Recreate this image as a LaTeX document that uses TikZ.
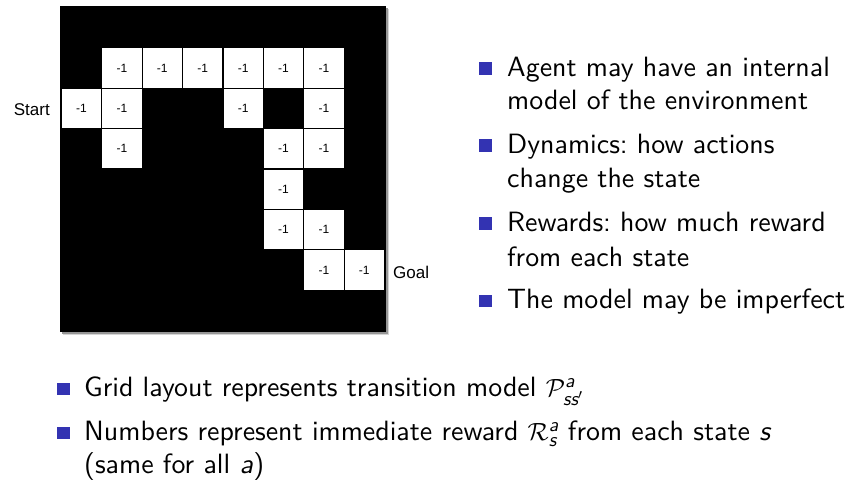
\documentclass[tikz,border=0pt]{standalone}
\usepackage{amsmath}
\usepackage{fontspec}
\usepackage{tikz}
\usetikzlibrary{positioning}
\newfontfamily\arialfont{Liberation Sans}
\newfontfamily\slidefont{lmsans10-regular}[Extension=.otf, ItalicFont=lmsans10-oblique]
\definecolor{bulletblue}{RGB}{51,51,178}
\definecolor{shadowgray}{RGB}{150,150,150}

\begin{document}
\begin{tikzpicture}[
    x=1pt, y=-1pt,
    cell/.style={
        rectangle,
        draw=black,
        line width=1.2pt,
        fill=white,
        minimum size=40.4pt,
        inner sep=0pt,
        font=\arialfont\fontsize{12}{12}\selectfont
    },
    tag/.style={inner sep=0pt, font=\arialfont\fontsize{17}{17}\selectfont},
    bullet/.style={rectangle, fill=bulletblue, minimum size=12.5pt, inner sep=0pt, anchor=south west},
    itemtext/.style={anchor=base west, inner sep=0pt, font=\slidefont\fontsize{27.9}{33}\selectfont}
]
\useasboundingbox (0,0) rectangle (848,501);

% grid world
\fill[shadowgray!40] (63,9) rectangle (389,335);
\fill[shadowgray] (61.5,7.5) rectangle (387.5,333.5);
\fill[black] (60,6) rectangle (386,332);

\node[cell] (c11) at (121.9,67.9) {-1};
\node[cell] (c12) at (162.3,67.9) {-1};
\node[cell] (c13) at (202.7,67.9) {-1};
\node[cell] (c14) at (243.1,67.9) {-1};
\node[cell] (c15) at (283.5,67.9) {-1};
\node[cell] (c16) at (323.9,67.9) {-1};

\node[cell] (c20) at (81.5,108.3) {-1};
\node[cell] (c21) at (121.9,108.3) {-1};
\node[cell] (c24) at (243.1,108.3) {-1};
\node[cell] (c26) at (323.9,108.3) {-1};

\node[cell] (c31) at (121.9,148.7) {-1};
\node[cell] (c35) at (283.5,148.7) {-1};
\node[cell] (c36) at (323.9,148.7) {-1};

\node[cell] (c45) at (283.5,189.1) {-1};

\node[cell] (c55) at (283.5,229.5) {-1};
\node[cell] (c56) at (323.9,229.5) {-1};

\node[cell] (c66) at (323.9,269.9) {-1};
\node[cell] (c67) at (364.3,269.9) {-1};

\node[tag, anchor=base east] (start) at (50,115) {Start};
\node[tag, anchor=base west] (goal) at (393,278.5) {Goal};

% right column
\node[bullet] (b1) at (479,75) {};
\node[itemtext] (agent) at (507,76) {Agent may have an internal};
\node[itemtext] (agentb) at (507,109.5) {model of the environment};

\node[bullet] (b2) at (479,152) {};
\node[itemtext] (dyn) at (507,153) {Dynamics:\ how actions};
\node[itemtext] (dynb) at (507,187) {change the state};

\node[bullet] (b3) at (479,230) {};
\node[itemtext] (rew) at (507,231) {Rewards:\ how much reward};
\node[itemtext] (rewb) at (507,266.5) {from each state};

\node[bullet] (b4) at (479,307.5) {};
\node[itemtext] (imp) at (507,308.5) {The model may be imperfect};

% bottom lines
\node[bullet] (b5) at (57,395.5) {};
\node[itemtext] (grid) at (84,396.5) {Grid layout represents transition model $\mathcal{P}^{\textit{a}}_{\textit{ss}'}$};

\node[bullet] (b6) at (57,439.5) {};
\node[itemtext] (num) at (84,440.5) {Numbers represent immediate reward $\mathcal{R}^{\textit{a}}_{\textit{s}}$ from each state \textit{s}};
\node[itemtext] (numb) at (84,473.5) {(same for all \textit{a})};

\end{tikzpicture}
\end{document}
